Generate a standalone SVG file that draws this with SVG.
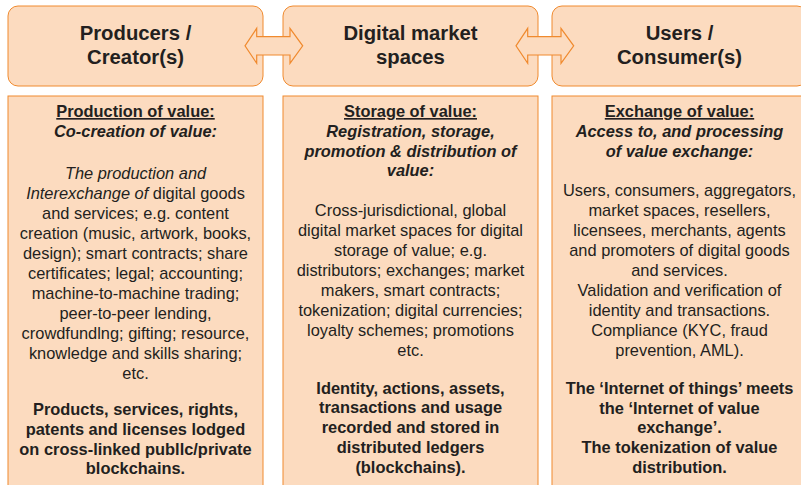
<svg xmlns="http://www.w3.org/2000/svg" width="801" height="485" viewBox="0 0 801 485">
<style>
.box{fill:#FCDBBF;stroke:#F08A2E;stroke-width:1}
.arrow{fill:#FCDBBF;stroke:#F08A2E;stroke-width:1.2;stroke-linejoin:miter}
text{font-family:"Liberation Sans",Arial,Helvetica,sans-serif;fill:#231F20;text-anchor:middle}
.title{font-size:20.3px;font-weight:bold}
.body{font-size:16.4px}
.b{font-weight:bold}
.i{font-style:italic}
.u{text-decoration:underline}
</style>
<rect x="0" y="0" width="801" height="485" fill="#FFFFFF"/>
<g id="producers">
<rect class="box" x="8" y="6" width="255" height="80" rx="10"/>
<text class="title" x="135.5" y="40">Producers /</text>
<text class="title" x="135.5" y="64">Creator(s)</text>
</g>
<g id="market-spaces">
<rect class="box" x="283" y="6" width="255" height="80" rx="10"/>
<text class="title" x="410.5" y="40">Digital market</text>
<text class="title" x="410.5" y="64">spaces</text>
</g>
<g id="users">
<rect class="box" x="552" y="6" width="255" height="80" rx="10"/>
<text class="title" x="679.5" y="40">Users /</text>
<text class="title" x="679.5" y="64">Consumer(s)</text>
</g>
<g id="production-of-value">
<rect class="box" x="8" y="96" width="255" height="400"/>
<g class="body">
<text class="b u" x="135.5" y="117">Production of value:</text>
<text class="b i" x="135.5" y="136.8">Co-creation of value:</text>
<text class="i" x="135.5" y="178.5">The production and</text>
<text x="135.5" y="198.5"><tspan class="i">Interexchange of</tspan> digital goods</text>
<text x="135.5" y="218.5">and services; e.g. content</text>
<text x="135.5" y="238.5">creation (music, artwork, books,</text>
<text x="135.5" y="258.5">design); smart contracts; share</text>
<text x="135.5" y="278.5">certificates; legal; accounting;</text>
<text x="135.5" y="298.5">machine-to-machine trading;</text>
<text x="135.5" y="318.5">peer-to-peer lending,</text>
<text x="135.5" y="338.5">crowdfundlng; gifting; resource,</text>
<text x="135.5" y="358.5">knowledge and skills sharing;</text>
<text x="135.5" y="378.5">etc.</text>
<text class="b" x="135.5" y="415">Products, services, rights,</text>
<text class="b" x="135.5" y="434.8">patents and licenses lodged</text>
<text class="b" x="135.5" y="454.6">on cross-linked publlc/private</text>
<text class="b" x="135.5" y="474.4">blockchains.</text>
</g>
</g>
<g id="storage-of-value">
<rect class="box" x="283" y="96" width="255" height="400"/>
<g class="body">
<text class="b u" x="410.5" y="117">Storage of value:</text>
<text class="b i" x="410.5" y="136.8">Registration, storage,</text>
<text class="b i" x="410.5" y="156.6">promotion &amp; distribution of</text>
<text class="b i" x="410.5" y="176.4">value:</text>
<text x="410.5" y="216">Cross-jurisdictional, global</text>
<text x="410.5" y="236">digital market spaces for digital</text>
<text x="410.5" y="256">storage of value; e.g.</text>
<text x="410.5" y="276">distributors; exchanges; market</text>
<text x="410.5" y="296">makers, smart contracts;</text>
<text x="410.5" y="316">tokenization; digital currencies;</text>
<text x="410.5" y="336">loyalty schemes; promotions</text>
<text x="410.5" y="356">etc.</text>
<text class="b" x="410.5" y="393.6">Identity, actions, assets,</text>
<text class="b" x="410.5" y="413.4">transactions and usage</text>
<text class="b" x="410.5" y="433.2">recorded and stored in</text>
<text class="b" x="410.5" y="453">distributed ledgers</text>
<text class="b" x="410.5" y="472.8">(blockchains).</text>
</g>
</g>
<g id="exchange-of-value">
<rect class="box" x="552" y="96" width="255" height="400"/>
<g class="body">
<text class="b u" x="679.5" y="117">Exchange of value:</text>
<text class="b i" x="679.5" y="136.8">Access to, and processing</text>
<text class="b i" x="679.5" y="156.6">of value exchange:</text>
<text x="679.5" y="196">Users, consumers, aggregators,</text>
<text x="679.5" y="216">market spaces, resellers,</text>
<text x="679.5" y="236">licensees, merchants, agents</text>
<text x="679.5" y="256">and promoters of digital goods</text>
<text x="679.5" y="276">and services.</text>
<text x="679.5" y="296">Validation and verification of</text>
<text x="679.5" y="316">identity and transactions.</text>
<text x="679.5" y="336">Compliance (KYC, fraud</text>
<text x="679.5" y="356">prevention, AML).</text>
<text class="b" x="679.5" y="393.8">The ‘Internet of things’ meets</text>
<text class="b" x="679.5" y="413.5">the ‘Internet of value</text>
<text class="b" x="679.5" y="433.2">exchange’.</text>
<text class="b" x="679.5" y="453">The tokenization of value</text>
<text class="b" x="679.5" y="472.8">distribution.</text>
</g>
</g>
<g id="connectors">
<polygon class="arrow" points="245,45.8 256.7,28.3 256.7,36.7 290,36.7 290,28.3 302.7,45.8 290,63.3 290,55 256.7,55 256.7,63.3"/>
<polygon class="arrow" points="516,45.8 527.7,28.3 527.7,36.7 561,36.7 561,28.3 573.7,45.8 561,63.3 561,55 527.7,55 527.7,63.3"/>
</g>
</svg>
